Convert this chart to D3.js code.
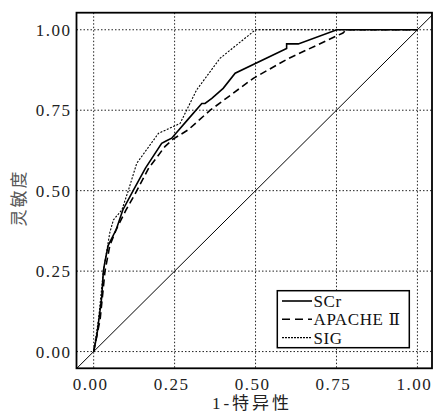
<!DOCTYPE html>
<html><head><meta charset="utf-8">
<script src="https://cdn.jsdelivr.net/npm/d3@7"></script>
<style>
body{margin:0;background:#fff}svg{display:block}
text{font-family:"Liberation Serif","Times New Roman","DejaVu Serif","Noto Sans CJK SC",serif}
</style>
</head><body>
<script>
const ticks = [0, 0.25, 0.5, 0.75, 1.0];
const tickLabels = ["0.00", "0.25", "0.50", "0.75", "1.00"];
const xTitle = "1-特异性";
const yTitle = "灵敏度";
const seriesNames = ["SCr", "APACHE Ⅱ", "SIG"];
const scrX = [0, 0.01, 0.02, 0.025, 0.03, 0.035, 0.045, 0.05, 0.07, 0.09, 0.122, 0.16, 0.21, 0.225, 0.241, 0.29, 0.334, 0.344, 0.365, 0.40, 0.437, 0.596, 0.596, 0.632, 0.751, 1.0];
const scrY = [0, 0.05, 0.13, 0.17, 0.25, 0.28, 0.33, 0.34, 0.38, 0.44, 0.50, 0.57, 0.647, 0.655, 0.663, 0.72, 0.771, 0.771, 0.787, 0.818, 0.865, 0.942, 0.956, 0.956, 1.0, 1.0];
const apacheX = [0, 0.02, 0.035, 0.05, 0.07, 0.10, 0.128, 0.17, 0.22, 0.245, 0.292, 0.36, 0.493, 0.60, 0.77, 0.78, 1.0];
const apacheY = [0, 0.10, 0.25, 0.33, 0.38, 0.44, 0.49, 0.57, 0.637, 0.66, 0.689, 0.75, 0.849, 0.91, 0.99, 1.0, 1.0];
const sigX = [0, 0.015, 0.03, 0.05, 0.061, 0.087, 0.107, 0.133, 0.2, 0.267, 0.318, 0.39, 0.5, 1.0];
const sigY = [0, 0.10, 0.25, 0.37, 0.409, 0.44, 0.50, 0.585, 0.678, 0.709, 0.813, 0.911, 1.0, 1.0];
const diag = [-0.053, 1.045];

const W = 433, H = 414;
const L = 76.5, R = 432, T = 12.7, B = 368.3;
const x = d3.scaleLinear().domain([-0.053, 1.045]).range([L, R]);
const y = d3.scaleLinear().domain([-0.052, 1.053]).range([B, T]);

const svg = d3.select("body").append("svg").attr("width", W).attr("height", H);
svg.append("clipPath").attr("id", "c").append("rect")
  .attr("x", L).attr("y", T).attr("width", R - L).attr("height", B - T);

const g = svg.append("g").attr("clip-path", "url(#c)");
// grid
ticks.forEach(t => {
  g.append("line").attr("x1", x(t)).attr("x2", x(t)).attr("y1", T).attr("y2", B)
    .attr("stroke", "#222").attr("stroke-width", 1).attr("stroke-dasharray", "1.5,2");
  g.append("line").attr("x1", L).attr("x2", R).attr("y1", y(t)).attr("y2", y(t))
    .attr("stroke", "#222").attr("stroke-width", 1).attr("stroke-dasharray", "1.5,2");
});
// diagonal
g.append("line").attr("x1", x(diag[0])).attr("y1", y(diag[0])).attr("x2", x(diag[1])).attr("y2", y(diag[1]))
  .attr("stroke", "#000").attr("stroke-width", 1);

const line = d3.line().x(d => x(d[0])).y(d => y(d[1]));
const series = [
  {pts: d3.zip(scrX, scrY), dash: null, w: 1.6},
  {pts: d3.zip(apacheX, apacheY), dash: "7,4", w: 1.6},
  {pts: d3.zip(sigX, sigY), dash: "2,1.5", w: 1.1}
];
series.forEach(s => {
  g.append("path").attr("d", line(s.pts)).attr("fill", "none").attr("stroke", "#000")
    .attr("stroke-width", s.w).attr("stroke-dasharray", s.dash);
});

// frame
svg.append("rect").attr("x", L).attr("y", T).attr("width", R - L).attr("height", B - T)
  .attr("fill", "none").attr("stroke", "#000").attr("stroke-width", 1.8);

// tick labels
ticks.forEach((t, i) => {
  svg.append("text").attr("x", 71.5).attr("y", y(t)).attr("dy", "0.35em").attr("text-anchor", "end")
    .attr("font-size", 17).attr("letter-spacing", "1.5px").attr("fill", "#222")
    .text(tickLabels[i]);
  svg.append("text").attr("x", x(t) - 3).attr("y", 390).attr("text-anchor", "middle")
    .attr("font-size", 17).attr("letter-spacing", "1.5px").attr("fill", "#222")
    .text(tickLabels[i]);
});
// axis titles
svg.append("text").attr("x", 252).attr("y", 409).attr("text-anchor", "middle")
  .attr("font-size", 17).attr("letter-spacing", "3px").attr("fill", "#222").text(xTitle);
svg.append("text").attr("transform", "translate(25,198) rotate(-90)").attr("text-anchor", "middle")
  .attr("font-size", 17).attr("letter-spacing", "2px").attr("fill", "#555").text(yTitle);

// legend
const lg = svg.append("g");
lg.append("rect").attr("x", 277.3).attr("y", 290.7).attr("width", 132).attr("height", 57)
  .attr("fill", "#fff").attr("stroke", "#000").attr("stroke-width", 1.5);
series.forEach((s, i) => {
  const yy = 301 + i * 18.3;
  lg.append("line").attr("x1", 282).attr("x2", 312).attr("y1", yy).attr("y2", yy)
    .attr("stroke", "#000").attr("stroke-width", s.w).attr("stroke-dasharray", s.dash ? (i === 1 ? "8,5" : "2,1") : null);
  lg.append("text").attr("x", 313.5).attr("y", yy).attr("dy", "0.35em")
    .attr("font-size", 17).attr("letter-spacing", "0.6px").attr("fill", "#111").text(seriesNames[i]);
});
</script>
</body></html>
